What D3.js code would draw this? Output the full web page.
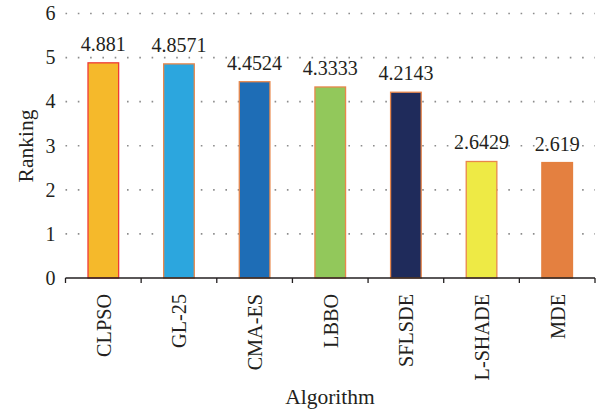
<!DOCTYPE html>
<html>
<head>
<meta charset="utf-8">
<script src="https://cdn.jsdelivr.net/npm/d3@7"></script>
<style>
  html, body { margin: 0; padding: 0; background: #fff; }
  text { font-family: "Liberation Serif", "DejaVu Serif", serif; fill: #231f20; }
</style>
</head>
<body>
<svg id="chart" width="603" height="412"></svg>
<script>
const categories = ["CLPSO", "GL-25", "CMA-ES", "LBBO", "SFLSDE", "L-SHADE", "MDE"];
const values = [4.881, 4.8571, 4.4524, 4.3333, 4.2143, 2.6429, 2.619];
const valueLabels = ["4.881", "4.8571", "4.4524", "4.3333", "4.2143", "2.6429", "2.619"];
const fillColors = ["#f5b92b", "#2ca6de", "#1e6db6", "#92c85b", "#1f2b5b", "#eeea45", "#e48040"];
const strokeColors = ["#ee3a36", "#e8874c", "#e8874c", "#e8874c", "#e8874c", "#e8874c", "#e48040"];
const yTicks = [0, 1, 2, 3, 4, 5, 6];

const svg = d3.select("#chart");
const mLeft = 65.5, mRight = 595, mTop = 13.5, mBottom = 278;

const x = d3.scaleBand().domain(categories).range([mLeft, mRight]).padding(0);
const y = d3.scaleLinear().domain([0, 6]).range([mBottom, mTop]);

// gridlines
svg.append("g").selectAll("line").data(yTicks.filter(d => d > 0)).join("line")
  .attr("x1", mLeft).attr("x2", mRight)
  .attr("y1", d => y(d)).attr("y2", d => y(d))
  .attr("stroke", "#8c8c8c").attr("stroke-width", 1.6)
  .attr("stroke-dasharray", "1.6,10.7");

// y tick labels
svg.append("g").selectAll("text").data(yTicks).join("text")
  .attr("x", 55.5).attr("y", d => y(d)).attr("dy", "0.34em")
  .attr("text-anchor", "end").attr("font-size", 20)
  .text(d => d);

// bars
const bw = x.bandwidth() * 0.405;
svg.append("g").selectAll("rect").data(values).join("rect")
  .attr("x", (d, i) => x(categories[i]) + (x.bandwidth() - bw) / 2)
  .attr("y", d => y(d))
  .attr("width", bw)
  .attr("height", d => y(0) - y(d))
  .attr("fill", (d, i) => fillColors[i])
  .attr("stroke", (d, i) => strokeColors[i])
  .attr("stroke-width", 1.3);

// value labels
svg.append("g").selectAll("text").data(values).join("text")
  .attr("x", (d, i) => x(categories[i]) + x.bandwidth() / 2)
  .attr("y", d => y(d) - 12)
  .attr("text-anchor", "middle").attr("font-size", 20)
  .text((d, i) => valueLabels[i]);

// x axis
const xAxis = svg.append("g").attr("transform", `translate(0,${mBottom})`)
  .call(d3.axisBottom(x).tickSize(0).tickFormat(""));
xAxis.select(".domain").remove();
xAxis.append("line").attr("x1", mLeft).attr("x2", mRight).attr("y1", 0).attr("y2", 0)
  .attr("stroke", "#231f20").attr("stroke-width", 1.5);
const boundaries = categories.map(c => x(c)).concat([mRight]);
xAxis.append("g").selectAll("line").data(boundaries).join("line")
  .attr("x1", d => d).attr("x2", d => d).attr("y1", 0).attr("y2", 5)
  .attr("stroke", "#231f20").attr("stroke-width", 1.3);

// category labels rotated
svg.append("g").selectAll("text").data(categories).join("text")
  .attr("transform", d => `translate(${x(d) + x.bandwidth() / 2 + 7.5},294) rotate(-90) scale(0.94,1)`)
  .attr("text-anchor", "end").attr("font-size", 21.5)
  .text(d => d);

// axis titles
svg.append("text").attr("x", 330).attr("y", 404)
  .attr("text-anchor", "middle").attr("font-size", 21.5).text("Algorithm");
svg.append("text").attr("transform", "translate(33,146) rotate(-90)")
  .attr("text-anchor", "middle").attr("font-size", 21.5).text("Ranking");
</script>
</body>
</html>
